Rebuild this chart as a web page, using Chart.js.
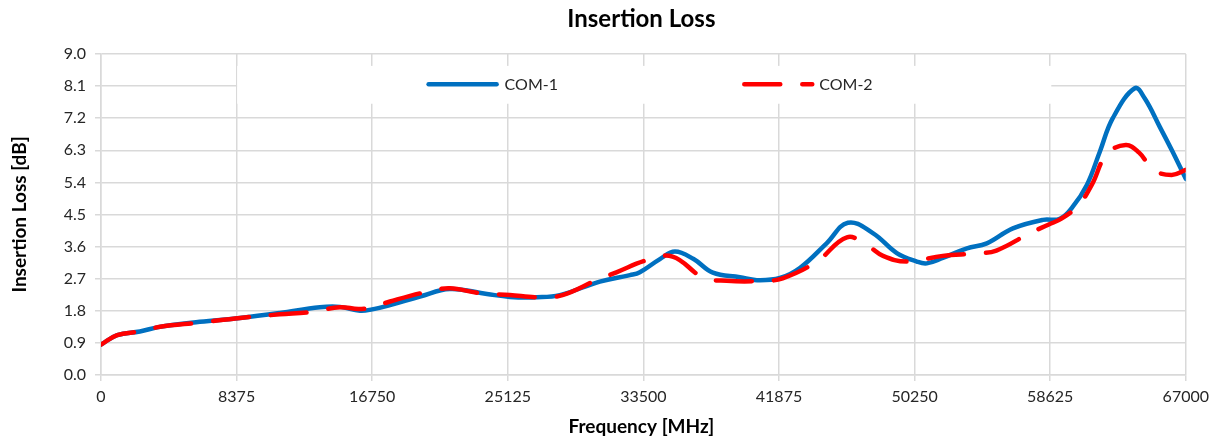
<!DOCTYPE html>
<html>
<head>
<meta charset="utf-8">
<script src="https://cdn.jsdelivr.net/npm/chart.js@4.4.1/dist/chart.umd.min.js"></script>
<style>
html,body{margin:0;padding:0;background:#fff;}
#wrap{width:1215px;height:444px;position:relative;}
</style>
</head>
<body>
<div id="wrap"><canvas id="c" width="1215" height="444"></canvas></div>
<script>
const chartTitle = 'Insertion Loss';
const xTitle = 'Frequency [MHz]';
const yTitle = 'Insertion Loss [dB]';
const seriesNames = ['COM-1', 'COM-2'];
const xTickValues = [0, 8375, 16750, 25125, 33500, 41875, 50250, 58625, 67000];
const yTickValues = [0, 0.9, 1.8, 2.7, 3.6, 4.5, 5.4, 6.3, 7.2, 8.1, 9.0];

const com1Freq = [0, 1000, 2400, 3640, 6100, 8580, 11050, 13520, 14760, 16000, 16750, 17850, 19700, 21550, 23840, 25250, 26920, 28340, 30810, 32670, 33280, 34520, 35450, 36600, 37790, 39460, 40510, 41930, 43160, 44830, 46130, 47670, 49150, 50390, 51000, 51990, 53480, 54710, 56320, 58170, 59220, 60020, 60890, 61690, 62490, 63850, 64470, 65400, 66140, 67000];
const com1Vals = [0.85, 1.12, 1.22, 1.35, 1.49, 1.60, 1.74, 1.90, 1.91, 1.80, 1.84, 1.96, 2.20, 2.41, 2.27, 2.19, 2.18, 2.24, 2.62, 2.80, 2.88, 3.25, 3.46, 3.25, 2.87, 2.74, 2.66, 2.72, 3.00, 3.70, 4.27, 3.98, 3.42, 3.18, 3.13, 3.28, 3.55, 3.69, 4.11, 4.35, 4.38, 4.72, 5.33, 6.26, 7.20, 8.04, 7.75, 6.95, 6.30, 5.50];

const com2Freq = [0, 1000, 2400, 3640, 6100, 8580, 11050, 12900, 14760, 15900, 16750, 17850, 20200, 21550, 23300, 25250, 27100, 28500, 30600, 31830, 33720, 35300, 37170, 38650, 40880, 42100, 44210, 46070, 47300, 48300, 49760, 51990, 54090, 55300, 57340, 58540, 59340, 60390, 61190, 62120, 63290, 64100, 65020, 66130, 67000];
const com2Vals = [0.85, 1.12, 1.22, 1.35, 1.47, 1.60, 1.70, 1.76, 1.90, 1.85, 1.90, 2.06, 2.34, 2.43, 2.30, 2.24, 2.18, 2.24, 2.66, 2.88, 3.22, 3.32, 2.74, 2.64, 2.64, 2.71, 3.18, 3.86, 3.64, 3.34, 3.18, 3.34, 3.41, 3.49, 3.97, 4.22, 4.39, 4.77, 5.33, 6.19, 6.45, 6.24, 5.75, 5.61, 5.75];

const FONT = 'Lato, "Open Sans", "Noto Sans", sans-serif';
const BLUE = '#0070c0';
const RED = '#ff0000';
const RED_DASH = [36, 22];

function toPoints(fs, vs){ return fs.map((f,i)=>({x:f, y:vs[i]})); }

const decorPlugin = {
  id: 'decor',
  beforeDatasetsDraw(chart){
    const {ctx, chartArea:a} = chart;
    const w = a.right - a.left, h = a.bottom - a.top;
    ctx.save();
    const bx0 = a.left + w*0.1255, bx1 = a.left + w*0.876;
    const by0 = a.top + h*0.037, by1 = a.top + h*0.155;
    ctx.fillStyle = '#ffffff';
    ctx.fillRect(bx0, by0, bx1-bx0, by1-by0);
    const ly = a.top + h*0.094;
    ctx.lineCap = 'round';
    ctx.lineWidth = 4.5;
    const x1 = a.left + w*0.302;
    ctx.strokeStyle = BLUE;
    ctx.setLineDash([]);
    ctx.beginPath(); ctx.moveTo(x1, ly); ctx.lineTo(x1 + 68, ly); ctx.stroke();
    ctx.font = '16px ' + FONT;
    ctx.fillStyle = '#262626';
    ctx.textBaseline = 'middle';
    ctx.textAlign = 'left';
    ctx.fillText(seriesNames[0], x1 + 76, ly + 1);
    const x2 = a.left + w*0.593;
    ctx.strokeStyle = RED;
    ctx.setLineDash(RED_DASH);
    ctx.beginPath(); ctx.moveTo(x2, ly); ctx.lineTo(x2 + 68, ly); ctx.stroke();
    ctx.setLineDash([]);
    ctx.fillText(seriesNames[1], x2 + 75, ly + 1);
    ctx.restore();
  },
  afterDraw(chart){
    const {ctx, chartArea:a} = chart;
    ctx.save();
    ctx.fillStyle = '#000000';
    ctx.textAlign = 'center';
    ctx.textBaseline = 'middle';
    ctx.font = 'bold 24px ' + FONT;
    ctx.fillText(chartTitle, (a.left + a.right)/2 - 2, 19);
    ctx.font = 'bold 19px ' + FONT;
    ctx.fillText(xTitle, (a.left + a.right)/2 - 2, 427);
    ctx.translate(20, (a.top + a.bottom)/2);
    ctx.rotate(-Math.PI/2);
    ctx.fillText(yTitle, 0, 0);
    ctx.restore();
  }
};

new Chart(document.getElementById('c'), {
  type: 'line',
  data: {
    datasets: [
      { label: seriesNames[0], data: toPoints(com1Freq, com1Vals), borderColor: BLUE, borderWidth: 4.5,
        pointRadius: 0, tension: 0.4, fill: false, borderCapStyle: 'round', borderJoinStyle: 'round', order: 2 },
      { label: seriesNames[1], data: toPoints(com2Freq, com2Vals), borderColor: RED, borderWidth: 4.5,
        borderDash: RED_DASH, pointRadius: 0, tension: 0.4, fill: false, borderCapStyle: 'round', borderJoinStyle: 'round', order: 1 }
    ]
  },
  options: {
    responsive: false,
    animation: false,
    devicePixelRatio: 1,
    layout: { padding: { top: 54, right: 29, bottom: 0, left: 0 } },
    plugins: { legend: { display: false }, title: { display: false }, tooltip: { enabled: false } },
    scales: {
      x: {
        type: 'linear', min: 0, max: 67000,
        afterBuildTicks: s => { s.ticks = xTickValues.map(v => ({value: v})); },
        afterFit: s => { s.height = 69; },
        ticks: { color: '#262626', font: { family: FONT, size: 16 }, padding: 6, maxRotation: 0, autoSkip: false,
                 callback: v => String(v) },
        grid: { color: '#d9d9d9', lineWidth: 1.5, drawTicks: true, tickLength: 6 },
        border: { color: '#d9d9d9', width: 1.5 }
      },
      y: {
        type: 'linear', min: 0, max: 9,
        afterBuildTicks: s => { s.ticks = yTickValues.map(v => ({value: v})); },
        afterFit: s => { s.width = 101; },
        ticks: { color: '#262626', font: { family: FONT, size: 16 }, padding: 9, autoSkip: false,
                 callback: v => Number(v).toFixed(1) },
        grid: { color: '#d9d9d9', lineWidth: 1.5, drawTicks: true, tickLength: 6 },
        border: { color: '#d9d9d9', width: 1.5 }
      }
    }
  },
  plugins: [decorPlugin]
});
</script>
</body>
</html>
